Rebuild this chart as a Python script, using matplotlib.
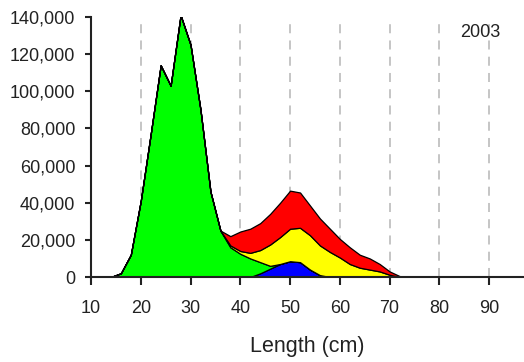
import numpy as np
import matplotlib.pyplot as plt
from matplotlib.ticker import FuncFormatter

plt.rcParams['font.family'] = ['Liberation Sans', 'DejaVu Sans']

# length classes (cm) and numbers at length by group (stacked: blue, green, yellow, red)
length = [10, 12, 14, 16, 18, 20, 22, 24, 26, 28, 30, 32, 34, 36, 38, 40, 42, 44, 46,
          48, 50, 52, 54, 56, 58, 60, 62, 64, 66, 68, 70, 72, 74, 76, 78, 80, 97]
blue = [0, 0, 0, 0, 0, 0, 0, 0, 0, 0, 0, 0, 0, 0, 0, 0, 0, 2000, 4500,
        7000, 8500, 8000, 4000, 1000, 0, 0, 0, 0, 0, 0, 0, 0, 0, 0, 0, 0, 0]
green = [0, 0, 0, 2000, 12000, 41000, 77000, 114000, 103000, 141000, 125000, 90000, 46000,
         25000, 16000, 12500, 10000, 6000, 1500,
         0, 0, 0, 0, 0, 0, 0, 0, 0, 0, 0, 0, 0, 0, 0, 0, 0, 0]
yellow = [0, 0, 0, 0, 0, 0, 0, 0, 0, 0, 0, 0, 0, 0, 1000, 1500, 3000, 6500, 11500,
          14500, 17500, 18500, 18500, 16000, 13500, 10500, 7000, 5000, 4000, 3000, 1200, 0,
          0, 0, 0, 0, 0]
red = [0, 0, 0, 0, 0, 0, 0, 0, 0, 0, 0, 0, 0, 0, 5000, 10500, 13000, 14500, 16500,
       18500, 20500, 19000, 16000, 14500, 12500, 10000, 9000, 7000, 6000, 4000, 1800, 500,
       150, 0, 0, 0, 0]
colors = ['#0000FF', '#00FF00', '#FFFF00', '#FF0000']
year = '2003'
xticks = [10, 20, 30, 40, 50, 60, 70, 80, 90]
yticks = [0, 20000, 40000, 60000, 80000, 100000, 120000, 140000]

fig = plt.figure(figsize=(5.24, 3.62), dpi=100)
ax = fig.add_axes([91 / 524, 85 / 362, 433 / 524, 260 / 362])

for g in xticks[1:]:
    ax.axvline(g, color='#c0c0c0', lw=1.3, ls=(0, (5, 4)), zorder=0)

ax.stackplot(length, blue, green, yellow, red, colors=colors,
             edgecolor='black', linewidth=0.9, zorder=2)

ax.set_xlim(10, 97)
ax.set_ylim(0, 140000)
ax.set_xticks(xticks)
ax.set_yticks(yticks)
ax.yaxis.set_major_formatter(FuncFormatter(lambda v, p: f'{int(v):,}'))

for s in ['top', 'right']:
    ax.spines[s].set_visible(False)
for s in ['left', 'bottom']:
    ax.spines[s].set_linewidth(1.5)
    ax.spines[s].set_color('#222222')
    ax.spines[s].set_zorder(3)

ax.tick_params(axis='x', length=5.8, width=1.5, pad=10.5, labelsize=13, colors='#222222')
ax.tick_params(axis='y', length=4.3, width=1.5, pad=7, labelsize=13, colors='#222222')

ax.set_xlabel('Length (cm)', fontsize=15.5, labelpad=14, color='#222222')
ax.text(0.9, 0.94, year, transform=ax.transAxes, ha='center', va='center',
        fontsize=13, color='#222222')

fig.savefig('out.png', dpi=100)
